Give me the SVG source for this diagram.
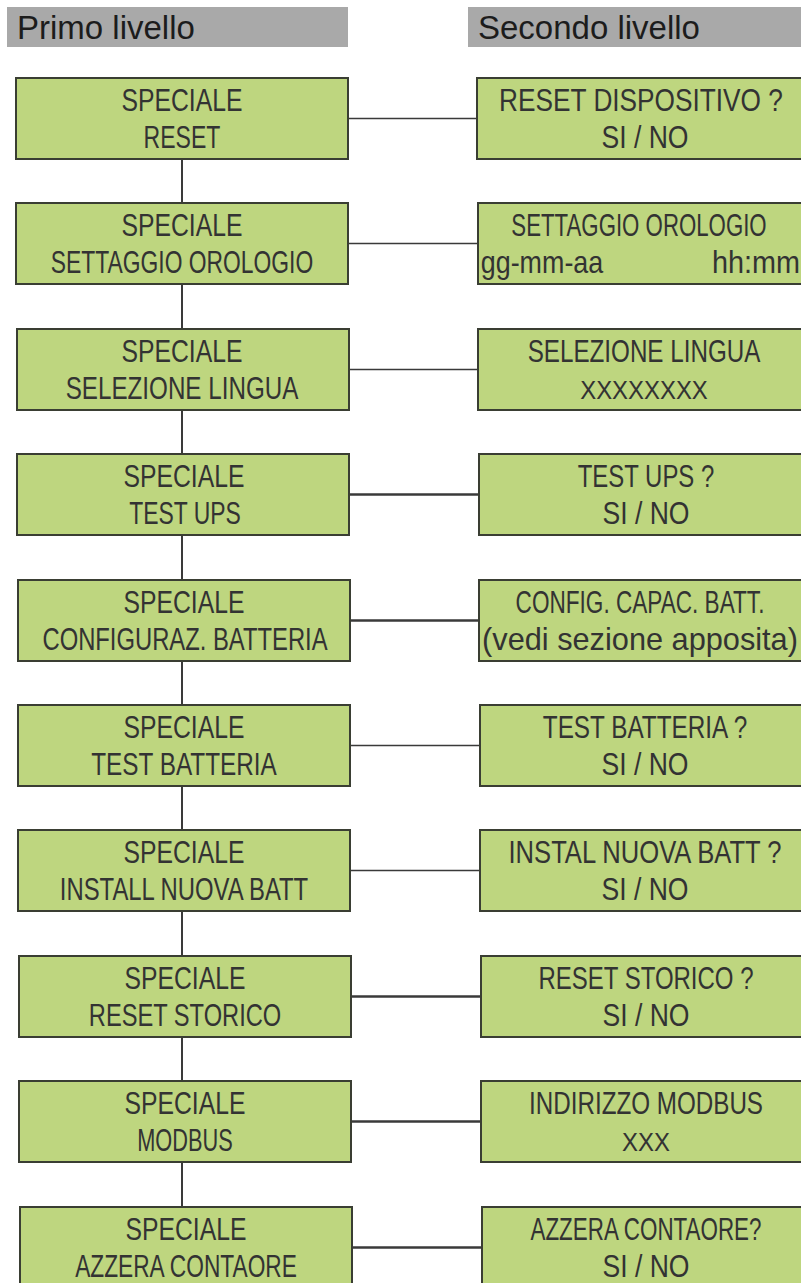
<svg xmlns="http://www.w3.org/2000/svg" width="801" height="1283" viewBox="0 0 801 1283">
<style>
.hdr{fill:#a9a9a9}
.ht{font-family:"Liberation Sans",Arial,sans-serif;font-size:33px;fill:#1c1c1c}
.box{fill:#bed67f;stroke:#3a3e33;stroke-width:2}
.lcd{font-family:"Liberation Sans",Arial,sans-serif;font-size:32px;fill:#333;text-anchor:middle}
.sm{font-size:26px}
.con{stroke:#3a3a3a;fill:none}
.v{stroke-width:2}
.h1{stroke-width:1.6}
.h2{stroke-width:2.6}
</style>
<rect width="801" height="1283" fill="#ffffff"/>
<g id="header-primo"><rect class="hdr" x="7" y="7" width="341" height="40"/><text class="ht" x="17" y="39">Primo livello</text></g>
<g id="header-secondo"><rect class="hdr" x="468" y="7" width="340" height="40"/><text class="ht" x="478" y="39">Secondo livello</text></g>
<g id="connectors">
<line class="con v" x1="182" y1="159" x2="182" y2="203"/>
<line class="con v" x1="182" y1="284" x2="182" y2="329"/>
<line class="con v" x1="182" y1="410" x2="182" y2="454"/>
<line class="con v" x1="182" y1="535" x2="182" y2="580"/>
<line class="con v" x1="182" y1="661" x2="182" y2="705"/>
<line class="con v" x1="182" y1="786" x2="182" y2="830"/>
<line class="con v" x1="182" y1="911" x2="182" y2="956"/>
<line class="con v" x1="182" y1="1037" x2="182" y2="1081"/>
<line class="con v" x1="182" y1="1162" x2="182" y2="1207"/>
<line class="con h1" x1="348" y1="118.5" x2="477" y2="118.5"/>
<line class="con h1" x1="348" y1="243.5" x2="478" y2="243.5"/>
<line class="con h1" x1="349" y1="369.5" x2="478" y2="369.5"/>
<line class="con h2" x1="349" y1="494.5" x2="479" y2="494.5"/>
<line class="con h2" x1="350" y1="620.5" x2="479" y2="620.5"/>
<line class="con h1" x1="350" y1="745.5" x2="480" y2="745.5"/>
<line class="con h1" x1="350" y1="870.5" x2="480" y2="870.5"/>
<line class="con h2" x1="351" y1="996.5" x2="481" y2="996.5"/>
<line class="con h2" x1="351" y1="1121.5" x2="481" y2="1121.5"/>
<line class="con h2" x1="352" y1="1247.5" x2="482" y2="1247.5"/>
</g>
<g id="l1"><rect class="box" x="16" y="78" width="332" height="81"/>
<text class="lcd" transform="translate(182 111) scale(.773 1)">SPECIALE</text>
<text class="lcd" transform="translate(182 148) scale(.72 1)">RESET</text></g>
<g id="r1"><rect class="box" x="477" y="78" width="340" height="81"/>
<text class="lcd" transform="translate(641 111) scale(.82 1)">RESET DISPOSITIVO ?</text>
<text class="lcd" transform="translate(645 148) scale(.83 1)">SI / NO</text></g>
<g id="l2"><rect class="box" x="16" y="203" width="332" height="81"/>
<text class="lcd" transform="translate(182 236) scale(.773 1)">SPECIALE</text>
<text class="lcd" transform="translate(182 273) scale(.714 1)">SETTAGGIO OROLOGIO</text></g>
<g id="r2"><rect class="box" x="478" y="203" width="340" height="81"/>
<text class="lcd" transform="translate(639 236) scale(.695 1)">SETTAGGIO OROLOGIO</text>
<text class="lcd" transform="translate(542 273) scale(.84 1)">gg-mm-aa</text>
<text class="lcd" transform="translate(756 273) scale(.9 1)">hh:mm</text></g>
<g id="l3"><rect class="box" x="17" y="329" width="332" height="81"/>
<text class="lcd" transform="translate(182 362) scale(.773 1)">SPECIALE</text>
<text class="lcd" transform="translate(182 399) scale(.757 1)">SELEZIONE LINGUA</text></g>
<g id="r3"><rect class="box" x="478" y="329" width="340" height="81"/>
<text class="lcd" transform="translate(644 362) scale(.757 1)">SELEZIONE LINGUA</text>
<text class="lcd sm" transform="translate(644 399) scale(.92 1)">XXXXXXXX</text></g>
<g id="l4"><rect class="box" x="17" y="454" width="332" height="81"/>
<text class="lcd" transform="translate(184 487) scale(.773 1)">SPECIALE</text>
<text class="lcd" transform="translate(185 524) scale(.716 1)">TEST UPS</text></g>
<g id="r4"><rect class="box" x="479" y="454" width="340" height="81"/>
<text class="lcd" transform="translate(646 487) scale(.748 1)">TEST UPS ?</text>
<text class="lcd" transform="translate(646 524) scale(.83 1)">SI / NO</text></g>
<g id="l5"><rect class="box" x="18" y="580" width="332" height="81"/>
<text class="lcd" transform="translate(184 613) scale(.773 1)">SPECIALE</text>
<text class="lcd" transform="translate(185 650) scale(.744 1)">CONFIGURAZ. BATTERIA</text></g>
<g id="r5"><rect class="box" x="479" y="580" width="340" height="81"/>
<text class="lcd" transform="translate(640 613) scale(.706 1)">CONFIG. CAPAC. BATT.</text>
<text class="lcd" transform="translate(640 650) scale(.96 1)">(vedi sezione apposita)</text></g>
<g id="l6"><rect class="box" x="18" y="705" width="332" height="81"/>
<text class="lcd" transform="translate(184 738) scale(.773 1)">SPECIALE</text>
<text class="lcd" transform="translate(184 775) scale(.76 1)">TEST BATTERIA</text></g>
<g id="r6"><rect class="box" x="480" y="705" width="340" height="81"/>
<text class="lcd" transform="translate(645 738) scale(.76 1)">TEST BATTERIA ?</text>
<text class="lcd" transform="translate(645 775) scale(.83 1)">SI / NO</text></g>
<g id="l7"><rect class="box" x="18" y="830" width="332" height="81"/>
<text class="lcd" transform="translate(184 863) scale(.773 1)">SPECIALE</text>
<text class="lcd" transform="translate(184 900) scale(.746 1)">INSTALL NUOVA BATT</text></g>
<g id="r7"><rect class="box" x="480" y="830" width="340" height="81"/>
<text class="lcd" transform="translate(645 863) scale(.8 1)">INSTAL NUOVA BATT ?</text>
<text class="lcd" transform="translate(645 900) scale(.83 1)">SI / NO</text></g>
<g id="l8"><rect class="box" x="19" y="956" width="332" height="81"/>
<text class="lcd" transform="translate(185 989) scale(.773 1)">SPECIALE</text>
<text class="lcd" transform="translate(185 1026) scale(.74 1)">RESET STORICO</text></g>
<g id="r8"><rect class="box" x="481" y="956" width="340" height="81"/>
<text class="lcd" transform="translate(646 989) scale(.75 1)">RESET STORICO ?</text>
<text class="lcd" transform="translate(646 1026) scale(.83 1)">SI / NO</text></g>
<g id="l9"><rect class="box" x="19" y="1081" width="332" height="81"/>
<text class="lcd" transform="translate(185 1114) scale(.773 1)">SPECIALE</text>
<text class="lcd" transform="translate(185 1151) scale(.68 1)">MODBUS</text></g>
<g id="r9"><rect class="box" x="481" y="1081" width="340" height="81"/>
<text class="lcd" transform="translate(646 1114) scale(.757 1)">INDIRIZZO MODBUS</text>
<text class="lcd sm" transform="translate(646 1151) scale(.92 1)">XXX</text></g>
<g id="l10"><rect class="box" x="20" y="1207" width="332" height="81"/>
<text class="lcd" transform="translate(186 1240) scale(.773 1)">SPECIALE</text>
<text class="lcd" transform="translate(186 1277) scale(.71 1)">AZZERA CONTAORE</text></g>
<g id="r10"><rect class="box" x="482" y="1207" width="340" height="81"/>
<text class="lcd" transform="translate(646 1240) scale(.7 1)">AZZERA CONTAORE?</text>
<text class="lcd" transform="translate(646 1277) scale(.83 1)">SI / NO</text></g>
</svg>
